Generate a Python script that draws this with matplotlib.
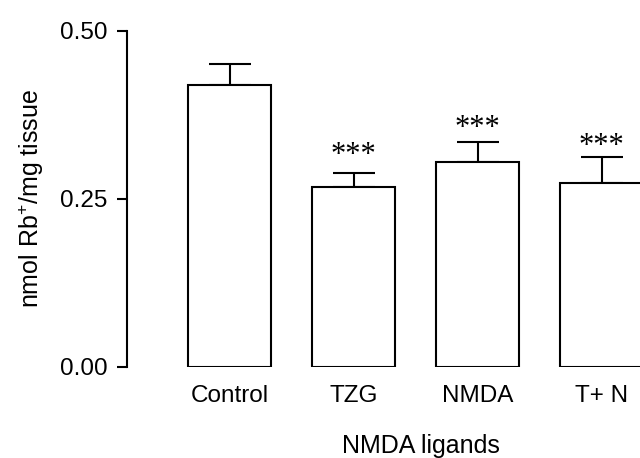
import numpy as np
import matplotlib.pyplot as plt

plt.rcParams['font.family'] = ['Liberation Sans', 'DejaVu Sans']
plt.rcParams['mathtext.default'] = 'regular'

groups = ['Control', 'TZG', 'NMDA', 'T+ N']
means = [0.419, 0.267, 0.305, 0.273]
sems = [0.031, 0.021, 0.029, 0.039]
marks = ['', '***', '***', '***']
mark_levels = [0, 0.322, 0.362, 0.334]  # heights where the stars sit

fig = plt.figure(figsize=(6.4, 4.58), dpi=100)
ax = fig.add_axes([0.1984, 0.1987, 0.8016, 0.7343])

x = np.arange(len(groups))
ax.bar(x, means, width=0.67, color='white', edgecolor='black', linewidth=1.5, zorder=2)
ax.errorbar(x, means, yerr=[np.zeros(len(sems)), sems], fmt='none', ecolor='black',
            elinewidth=1.5, capsize=14.8, capthick=1.5, zorder=1)

# significance stars
for xi, lv, t in zip(x, mark_levels, marks):
    if t:
        ax.text(xi, lv - 0.018, t, ha='center', va='baseline', fontsize=22,
                family='Liberation Serif')

ax.set_xlim(-0.827, 3.31)
ax.set_ylim(0, 0.5)
ax.set_yticks([0, 0.25, 0.5])
ax.set_yticklabels(['0.00', '0.25', '0.50'])
ax.set_xticks(x)
ax.set_xticklabels(groups)

ax.spines['top'].set_visible(False)
ax.spines['right'].set_visible(False)
ax.spines['bottom'].set_visible(False)
ax.spines['left'].set_linewidth(1.5)
ax.spines['left'].set_bounds(0, 0.5)
ax.tick_params(axis='y', length=7, width=1.5, labelsize=17.5, pad=7)
ax.tick_params(axis='x', length=0, labelsize=17.5, pad=13)

ax.set_ylabel('nmol Rb$^{+}$/mg tissue', fontsize=18, labelpad=10)
fig.text(421 / 640, 1 - 453 / 458, 'NMDA ligands', ha='center', va='baseline', fontsize=18)

fig.savefig('out.png', dpi=100)
